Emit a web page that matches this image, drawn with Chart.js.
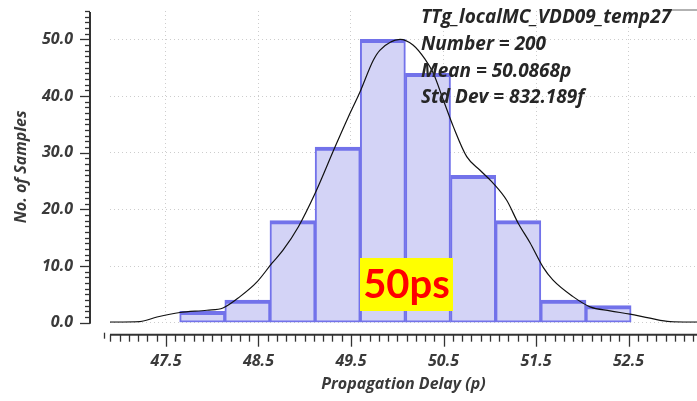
<!DOCTYPE html>
<html>
<head>
<meta charset="utf-8" />
<title>Propagation Delay</title>
<script src="https://cdn.jsdelivr.net/npm/chart.js@4.4.0/dist/chart.umd.min.js"></script>
<style>
  body { margin: 0; background: #fff; }
  canvas { display: block; }
</style>
</head>
<body>
<canvas id="histo" width="697" height="401"></canvas>
<script>
// histogram bins (p) and number of samples in each
var binCenters = [47.892, 48.380, 48.868, 49.356, 49.844, 50.332, 50.820, 51.308, 51.796, 52.284];
var counts = [2, 4, 18, 31, 50, 44, 26, 18, 4, 3];

// density curve scaled to the sample counts
var curveX = [46.895, 47.219, 47.403, 47.651, 47.943, 48.116, 48.300, 48.484, 48.646, 48.765, 48.930, 49.111,
              49.327, 49.471, 49.597, 49.741, 49.814, 50.030, 50.170, 50.300, 50.390, 50.498, 50.606, 50.751,
              50.895, 51.038, 51.183, 51.309, 51.435, 51.576, 51.684, 51.900, 52.084, 52.300, 52.516, 52.732,
              52.949, 53.240];
var curveY = [0.1, 0.2, 1.0, 1.8, 2.2, 2.6, 4.6, 7.2, 10.5, 12.8, 16.9, 22.8,
              31.0, 36.3, 40.7, 46.3, 48.1, 50.0, 49.0, 46.5, 44.0, 39.3, 34.6, 29.3,
              26.9, 24.6, 21.6, 17.5, 14.1, 9.8, 7.5, 4.6, 2.8, 2.1, 1.5, 0.8,
              0.2, 0.1];

var xLabels = [47.5, 48.5, 49.5, 50.5, 51.5, 52.5];
var yLabels = [0, 10, 20, 30, 40, 50];

var infoLines = ["TTg_localMC_VDD09_temp27", "Number = 200", "Mean = 50.0868p", "Std Dev = 832.189f"];
var markText = "50ps";

var axisFont = { family: "'Open Sans', sans-serif", size: 16, style: 'italic', weight: 'bold' };
var axisColor = '#3a3a3a';

// axis lines with minor ticks, info box and the yellow tag
var decorations = {
  id: 'decorations',
  afterDraw: function (chart) {
    var ctx = chart.ctx, a = chart.chartArea, xs = chart.scales.x, ys = chart.scales.y;
    ctx.save();
    ctx.strokeStyle = '#333';

    // y axis, offset from the plot
    var ax = a.left - 20;
    ctx.lineWidth = 2;
    ctx.beginPath();
    ctx.moveTo(ax, a.top + 1);
    ctx.lineTo(ax, a.bottom + 1);
    ctx.stroke();
    ctx.lineWidth = 1.3;
    for (var v = 0; v <= 55; v++) {
      var y = Math.round(ys.getPixelForValue(v)) + 0.5;
      var len = v % 10 === 0 ? 10 : 5;
      ctx.beginPath();
      ctx.moveTo(ax - len, y);
      ctx.lineTo(ax, y);
      ctx.stroke();
    }

    // x axis below the plot
    var ay = a.bottom + 12;
    ctx.lineWidth = 2;
    ctx.beginPath();
    ctx.moveTo(a.left, ay);
    ctx.lineTo(a.right, ay);
    ctx.stroke();
    ctx.lineWidth = 1.3;
    for (var k = Math.ceil(xs.min * 10); k <= xs.max * 10; k++) {
      var x = Math.round(xs.getPixelForValue(k / 10)) + 0.5;
      var major = k % 10 === 5;
      ctx.beginPath();
      ctx.moveTo(x, ay);
      ctx.lineTo(x, ay + (major ? 12 : 7));
      ctx.stroke();
    }
    ctx.beginPath();
    ctx.moveTo(a.left - 5.5, ay - 2);
    ctx.lineTo(a.left - 5.5, ay + 4);
    ctx.stroke();

    // frame stub at top right
    ctx.strokeStyle = '#999';
    ctx.lineWidth = 1.5;
    ctx.beginPath();
    ctx.moveTo(670, 10);
    ctx.lineTo(a.right, 10);
    ctx.stroke();

    // run info
    ctx.fillStyle = '#262626';
    ctx.font = "italic bold 19px 'Open Sans', sans-serif";
    ctx.textAlign = 'left';
    ctx.textBaseline = 'alphabetic';
    var baselines = [23, 50, 77, 103];
    infoLines.forEach(function (t, i) { ctx.fillText(t, 421, baselines[i]); });

    // yellow tag
    ctx.fillStyle = '#ffff00';
    ctx.fillRect(360, 258, 93, 53);
    ctx.fillStyle = '#ff0000';
    ctx.font = "bold 40px Lato, sans-serif";
    ctx.textAlign = 'center';
    ctx.fillText(markText, 406.5, 298);
    ctx.restore();
  }
};

var ctx = document.getElementById("histo").getContext("2d");
var histo = new Chart(ctx, {
  type: "bar",
  data: {
    datasets: [
      {
        type: "line",
        data: curveX.map(function (x, i) { return { x: x, y: curveY[i] }; }),
        borderColor: '#111',
        borderWidth: 1.2,
        pointRadius: 0,
        cubicInterpolationMode: 'monotone',
        fill: false,
        order: 0
      },
      {
        type: "bar",
        data: binCenters.map(function (x, i) { return { x: x, y: counts[i] }; }),
        backgroundColor: '#d3d3f6',
        borderColor: '#7272ea',
        borderWidth: { top: 4, left: 2, right: 2, bottom: 2 },
        borderSkipped: false,
        barPercentage: 1,
        categoryPercentage: 1,
        order: 1
      }
    ]
  },
  options: {
    responsive: false,
    animation: false,
    layout: { padding: { top: 11, right: 0, bottom: 0, left: 0 } },
    plugins: { legend: { display: false }, tooltip: { enabled: false } },
    scales: {
      x: {
        type: 'linear',
        min: 46.895,
        max: 53.24,
        offset: false,
        grid: { color: '#cdcdcd', drawTicks: false, offset: false },
        border: { display: false, dash: [1, 3] },
        afterBuildTicks: function (s) { s.ticks = xLabels.map(function (v) { return { value: v }; }); },
        afterFit: function (s) { s.height = 78.3; s.paddingLeft = 0; s.paddingRight = 0; },
        ticks: {
          padding: 29,
          maxRotation: 0,
          autoSkip: false,
          font: axisFont,
          color: axisColor,
          callback: function (v) { return v.toFixed(1); }
        },
        title: {
          display: true,
          text: 'Propagation Delay (p)',
          font: axisFont,
          color: axisColor,
          padding: { top: 0, bottom: 7 }
        }
      },
      y: {
        min: 0,
        max: 55,
        grid: { color: '#cdcdcd', drawTicks: false },
        border: { display: false, dash: [1, 3] },
        afterBuildTicks: function (s) { s.ticks = yLabels.map(function (v) { return { value: v }; }); },
        afterFit: function (s) { s.width = 110; s.paddingTop = 0; s.paddingBottom = 0; },
        ticks: {
          padding: 37,
          font: axisFont,
          color: axisColor,
          callback: function (v) { return v.toFixed(1); }
        },
        title: {
          display: true,
          text: 'No. of Samples',
          font: axisFont,
          color: axisColor,
          padding: { top: 12, bottom: 0 }
        }
      }
    }
  },
  plugins: [decorations]
});
</script>
</body>
</html>
